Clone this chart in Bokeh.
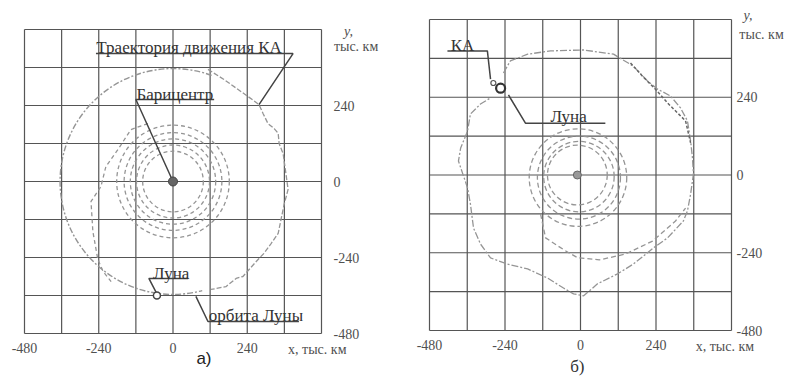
import math
from bokeh.plotting import figure
from bokeh.models import FixedTicker, Label, Range1d
from bokeh.layouts import row
from bokeh.embed import file_html
from bokeh.resources import INLINE

# ---------------- data (thousand km) ----------------
grid_ticks = [-480, -360, -240, -120, 0, 120, 240, 360, 480]
x_tick_values = [-480, -240, 0, 240]
x_tick_labels = ["-480", "-240", "0", "240"]
y_tick_values = [-480, -240, 0, 240]
y_tick_labels = ["-480", "-240", "0", "240"]

# panel a
a_moon_orbit_r = 365
a_moon_orbit_from_deg = 70
a_moon_orbit_to_deg = 285
a_ring_r = [98, 118, 138, 158, 182]
a_transfer_x = [-81, -136, -178, -217, -233, -265, -259, -243, -226, -200]
a_transfer_y = [183, 164, 101, 47, -16, -63, -158, -246, -284, -316]
a_outer_x = [113, 165, 243, 278, 291, 307, 327, 340, 343, 356, 365, 372, 359, 340, 317, 294, 278, 246, 226, 204, 171, 123]
a_outer_y = [354, 322, 268, 243, 215, 183, 167, 152, 120, 88, 25, -25, -73, -164, -196, -227, -243, -278, -300, -306, -332, -341]
a_bary_x, a_bary_y = [0], [0]
a_moon_x, a_moon_y = [-52], [-360]

# panel b
b_outer_x = [-245, -223, -168, -95, 10, 105, 168, 213, 245, 286, 318, 340, 350, 356, 359, 350, 340, 327, 277, 232, 168, 118, 54, 10, -22, -54, -105, -168, -232, -286, -318, -340, -350, -359, -388, -381, -359, -350, -318, -286]
b_outer_y = [315, 352, 373, 383, 386, 373, 336, 290, 265, 244, 207, 167, 105, 52, 3, -59, -111, -142, -194, -225, -275, -305, -336, -373, -367, -349, -318, -290, -275, -256, -213, -164, -89, -40, 43, 83, 136, 188, 219, 238]
b_branch_x = [159, 197, 238, 280, 334, 350]
b_branch_y = [346, 305, 265, 219, 167, 99]
b_transfer_x = [-127, -111, -48, -10, 60, 143, 229, 302, 334]
b_transfer_y = [-120, -194, -234, -255, -262, -244, -204, -142, -102]
b_ring_x = [-10, -5, -5, -8]
b_ring_y = [0, -5, -8, -8]
b_ring_r = [95, 112, 132, 155]
b_center_x, b_center_y = [-10], [0]
b_moon_x, b_moon_y = [-254], [268]
b_ka_x, b_ka_y = [-277], [284]

# annotation leaders (underline + pointer)
a_traj_lead_x = [-249, 388, 278]
a_traj_lead_y = [404, 404, 243]
a_bary_lead_x = [133, -120, 0]
a_bary_lead_y = [259, 259, 0]
a_moon_lead_x = [49, -78, -52]
a_moon_lead_y = [-306, -306, -355]
a_orb_lead_x = [407, 113, 74]
a_orb_lead_y = [-442, -442, -363]
b_ka_lead_x = [-423, -296, -286]
b_ka_lead_y = [383, 383, 296]
b_moon_lead_x = [-229, -175, 79]
b_moon_lead_y = [247, 160, 160]

SERIF = "Liberation Serif"
GRID = "#555555"
CURVE = "#959595"
TEXT = "#333333"
FIG_H = 380


def base(fig_w, grid_left, grid_top, grid_w, grid_h, standoff_x, standoff_y):
    # the frame fills the figure; the 960x960 grid sits inside it
    xpp = 960.0 / grid_w
    ypp = 960.0 / grid_h
    x0 = -480 - grid_left * xpp
    y1 = 480 + grid_top * ypp
    p = figure(width=fig_w, height=FIG_H, min_border=0,
               x_range=Range1d(x0, x0 + fig_w * xpp),
               y_range=Range1d(y1 - FIG_H * ypp, y1),
               y_axis_location="right", output_backend="svg",
               toolbar_location=None, tools="")
    p.outline_line_color = None
    p.grid.visible = False
    n = len(grid_ticks)
    lo, hi = grid_ticks[0], grid_ticks[-1]
    p.segment(x0=grid_ticks, y0=[lo] * n, x1=grid_ticks, y1=[hi] * n,
              line_color=GRID, line_width=1.2)
    p.segment(x0=[lo] * n, y0=grid_ticks, x1=[hi] * n, y1=grid_ticks,
              line_color=GRID, line_width=1.2)
    p.xaxis.fixed_location = lo
    p.yaxis.fixed_location = hi
    p.xaxis.ticker = FixedTicker(ticks=x_tick_values)
    p.yaxis.ticker = FixedTicker(ticks=y_tick_values)
    p.xaxis.major_label_overrides = dict(zip(x_tick_values, x_tick_labels))
    p.yaxis.major_label_overrides = dict(zip(y_tick_values, y_tick_labels))
    for ax, so in ((p.xaxis, standoff_x), (p.yaxis, standoff_y)):
        ax.axis_line_color = None
        ax.major_tick_line_color = None
        ax.minor_tick_line_color = None
        ax.major_tick_in = 0
        ax.major_tick_out = 0
        ax.major_label_standoff = so
        ax.major_label_text_font = SERIF
        ax.major_label_text_font_size = "14px"
        ax.major_label_text_color = "#505050"
    return p


def lab(p, x, y, text, size="17px", align="center", baseline="alphabetic",
        font=SERIF, style="normal", color=TEXT):
    p.add_layout(Label(x=x, y=y, text=text, text_font=font, text_font_size=size,
                       text_align=align, text_baseline=baseline,
                       text_font_style=style, text_color=color))


# ---------------- panel a ----------------
pa = base(400, 24, 29, 297, 304, 9, 12)
pa.arc(x=0, y=0, radius=a_moon_orbit_r,
       start_angle=math.radians(a_moon_orbit_from_deg),
       end_angle=math.radians(a_moon_orbit_to_deg), direction="anticlock",
       line_color=CURVE, line_width=1.4, line_dash="6 2 2 2")
pa.circle(x=[0] * len(a_ring_r), y=[0] * len(a_ring_r), radius=a_ring_r,
          fill_color=None, line_color=CURVE, line_width=1.3, line_dash="4 3")
pa.line(a_transfer_x, a_transfer_y, line_color=CURVE, line_width=1.3, line_dash="4 3")
pa.line(a_outer_x, a_outer_y, line_color=CURVE, line_width=1.3, line_dash="5 2")
for lx, ly in ((a_traj_lead_x, a_traj_lead_y), (a_bary_lead_x, a_bary_lead_y),
               (a_moon_lead_x, a_moon_lead_y), (a_orb_lead_x, a_orb_lead_y)):
    pa.line(lx, ly, line_color="#444444", line_width=1.5)
pa.scatter(a_bary_x, a_bary_y, size=9, marker="circle", fill_color="#666666",
           line_color="#444444")
pa.scatter(a_moon_x, a_moon_y, size=7, marker="circle", fill_color="white",
           line_color="#444444", line_width=1.5)
lab(pa, 52, 422, "Траектория движения КА")
lab(pa, 6, 276, "Барицентр")
lab(pa, -6, -289, "Луна")
lab(pa, 268, -424, "орбита Луны")
lab(pa, 553, 474, "y,", size="14px", align="left", baseline="middle", style="italic", color="#505050")
lab(pa, 520, 426, "тыс. км", size="14px", align="left", baseline="middle", color="#505050")
lab(pa, 372, -531, "x, тыс. км", size="14px", align="left", baseline="middle", color="#505050")
lab(pa, 100, -559, "а)", size="17px", baseline="middle", font="Liberation Sans", color="#222222")

# ---------------- panel b ----------------
pb = base(394, 29, 19, 302, 311, 9, 5)
pb.circle(x=b_ring_x, y=b_ring_y, radius=b_ring_r, fill_color=None,
          line_color=CURVE, line_width=1.3, line_dash="5 3")
pb.line(b_outer_x, b_outer_y, line_color=CURVE, line_width=1.3, line_dash="7 2 2 2")
pb.line(b_branch_x, b_branch_y, line_color="#666666", line_width=1.5, line_dash="3 2")
pb.line(b_transfer_x, b_transfer_y, line_color=CURVE, line_width=1.3, line_dash="5 3")
for lx, ly in ((b_ka_lead_x, b_ka_lead_y), (b_moon_lead_x, b_moon_lead_y)):
    pb.line(lx, ly, line_color="#444444", line_width=1.5)
pb.scatter(b_center_x, b_center_y, size=8, marker="circle", fill_color="#999999",
           line_color="#666666")
pb.scatter(b_moon_x, b_moon_y, size=9, marker="circle", fill_color="white",
           line_color="#333333", line_width=2.2)
pb.scatter(b_ka_x, b_ka_y, size=5, marker="circle", fill_color="white",
           line_color="#555555", line_width=1.2)
lab(pb, -375, 400, "КА")
lab(pb, -38, 180, "Луна")
lab(pb, 518, 491, "y,", size="14px", align="left", baseline="middle", style="italic", color="#505050")
lab(pb, 505, 435, "тыс. км", size="14px", align="left", baseline="middle", color="#505050")
lab(pb, 366, -528, "x, тыс. км", size="14px", align="left", baseline="middle", color="#505050")
lab(pb, -10, -592, "б)", size="17px", baseline="middle", color="#333333")

layout = row(pa, pb)
open("out.html", "w").write(file_html(layout, INLINE))
